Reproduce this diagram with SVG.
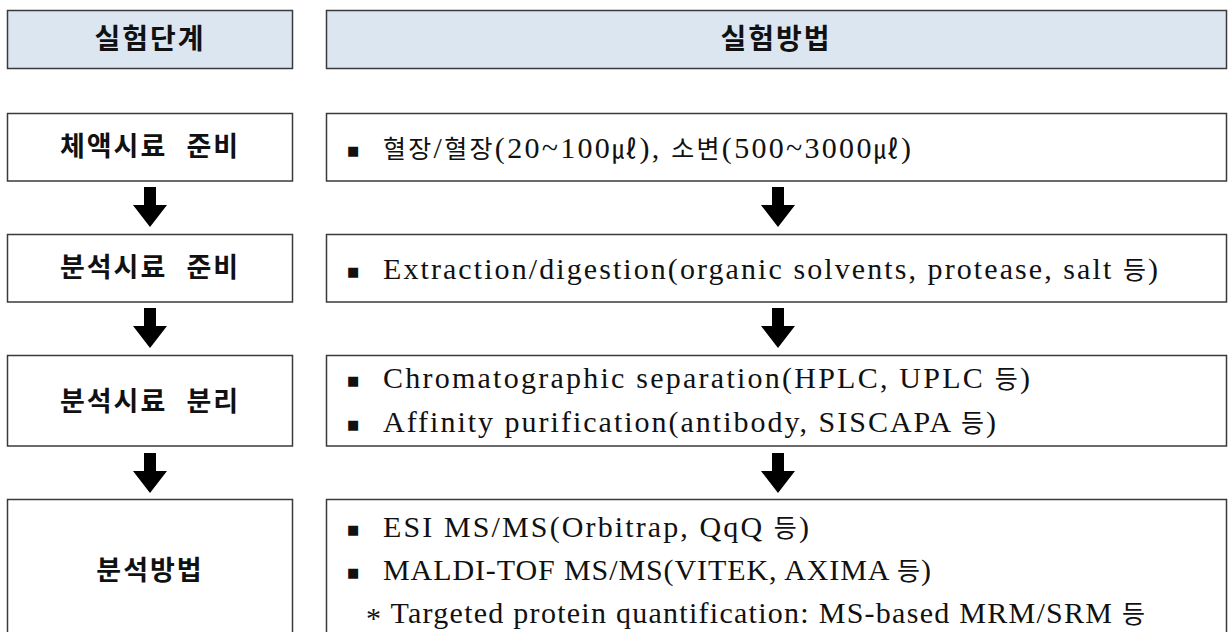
<svg xmlns="http://www.w3.org/2000/svg" width="1230" height="632" viewBox="0 0 1230 632">
<style>
.hdr{fill:#dce6f1;stroke:#3a3a3a;stroke-width:1.5}
.box{fill:#ffffff;stroke:#3a3a3a;stroke-width:1.5}
.ht{font-family:"Noto Sans CJK KR","Noto Sans",sans-serif;font-size:28px;font-weight:700;fill:#111;text-anchor:middle;letter-spacing:2px}
.lt{font-family:"Noto Sans CJK KR","Noto Sans",sans-serif;font-size:27px;font-weight:700;fill:#111;text-anchor:middle;letter-spacing:2px;word-spacing:11px}
.rt{font-family:"Liberation Serif","Noto Sans CJK KR",serif;font-size:30px;fill:#111;letter-spacing:2px}
.k{font-family:"Noto Sans CJK KR",sans-serif;font-size:25px}
.bl{font-family:"DejaVu Sans",sans-serif;font-size:13px;fill:#111}
.arr{fill:#000}
</style>
<defs>
<path id="arrow" d="M-6,0 H6 V18 H17 L0,40 L-17,18 H-6 Z"/>
</defs>

<g id="header-steps">
<rect class="hdr" x="7.5" y="10.5" width="285" height="58"/>
<text class="ht" x="150" y="49">실험단계</text>
</g>
<g id="header-methods">
<rect class="hdr" x="326.5" y="10.5" width="900" height="58"/>
<text class="ht" x="776" y="49">실험방법</text>
</g>

<g id="step1">
<rect class="box" x="7.5" y="113.5" width="285" height="67.5"/>
<text class="lt" x="150" y="156">체액시료 준비</text>
</g>
<g id="method1">
<rect class="box" x="326.5" y="113.5" width="900" height="67.5"/>
<text class="bl" x="347" y="155">■</text>
<text class="rt" x="383" y="158" textLength="530" lengthAdjust="spacing"><tspan class="k">혈장</tspan>/<tspan class="k">혈장</tspan>(20~100<tspan class="k">㎕</tspan>), <tspan class="k">소변</tspan>(500~3000<tspan class="k">㎕</tspan>)</text>
</g>

<g id="step2">
<rect class="box" x="7.5" y="234.5" width="285" height="67.5"/>
<text class="lt" x="150" y="277">분석시료 준비</text>
</g>
<g id="method2">
<rect class="box" x="326.5" y="234.5" width="900" height="67.5"/>
<text class="bl" x="347" y="276">■</text>
<text class="rt" x="383" y="279" textLength="777" lengthAdjust="spacing">Extraction/digestion(organic solvents, protease, salt <tspan class="k">등</tspan>)</text>
</g>

<g id="step3">
<rect class="box" x="7.5" y="355.5" width="285" height="90.5"/>
<text class="lt" x="150" y="411">분석시료 분리</text>
</g>
<g id="method3">
<rect class="box" x="326.5" y="355.5" width="900" height="90.5"/>
<text class="bl" x="347" y="385">■</text>
<text class="rt" x="383" y="388" textLength="649" lengthAdjust="spacing">Chromatographic separation(HPLC, UPLC <tspan class="k">등</tspan>)</text>
<text class="bl" x="347" y="429">■</text>
<text class="rt" x="383" y="432">Affinity purification(antibody, SISCAPA <tspan class="k">등</tspan>)</text>
</g>

<g id="step4">
<rect class="box" x="7.5" y="499.5" width="285" height="150"/>
<text class="lt" x="150" y="580">분석방법</text>
</g>
<g id="method4">
<rect class="box" x="326.5" y="499.5" width="900" height="150"/>
<text class="bl" x="347" y="534">■</text>
<text class="rt" x="383" y="537" textLength="428" lengthAdjust="spacing">ESI MS/MS(Orbitrap, QqQ <tspan class="k">등</tspan>)</text>
<text class="bl" x="347" y="577">■</text>
<text class="rt" x="383" y="580" textLength="550" lengthAdjust="spacing">MALDI-TOF MS/MS(VITEK, AXIMA <tspan class="k">등</tspan>)</text>
<text class="rt" x="366" y="623" textLength="781" lengthAdjust="spacing"><tspan dy="5">*</tspan><tspan dy="-5"> Targeted protein quantification: MS-based MRM/SRM </tspan><tspan class="k">등</tspan></text>
</g>

<g id="connectors">
<use href="#arrow" class="arr" x="150" y="187"/>
<use href="#arrow" class="arr" x="150" y="308"/>
<use href="#arrow" class="arr" x="150" y="453"/>
<use href="#arrow" class="arr" x="778" y="187"/>
<use href="#arrow" class="arr" x="778" y="308"/>
<use href="#arrow" class="arr" x="778" y="453"/>
</g>
</svg>
